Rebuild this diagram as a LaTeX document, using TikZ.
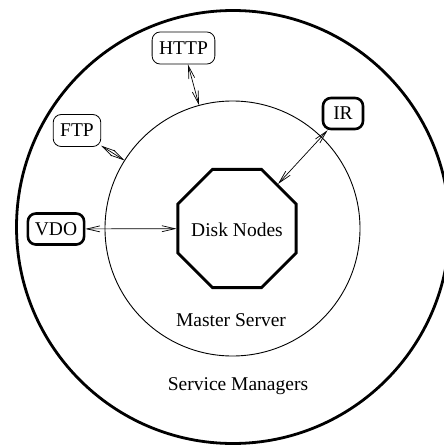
\documentclass[tikz,border=0pt]{standalone}
\usepackage{fontspec}
\setmainfont{Liberation Serif}
\usetikzlibrary{shapes.geometric,arrows.meta}
\begin{document}
\begin{tikzpicture}[x=1pt,y=-1pt,
  every node/.style={font=\fontsize{19.5}{23}\selectfont},
  thinbox/.style={draw,rounded corners=8pt,line width=0.8pt,inner xsep=7pt,minimum height=32pt},
  thickbox/.style={draw,rounded corners=8pt,line width=2.6pt,inner xsep=7pt,minimum height=31pt},
  link/.style={line width=0.7pt,{Straight Barb[length=13pt,width=6pt]}-{Straight Barb[length=13pt,width=6pt]}}]
\useasboundingbox (0,0) rectangle (444,447);
\node[circle,minimum size=433pt,inner sep=0pt] (svc) at (233,227) {};
\draw[line width=2.8pt] (svc.center) circle[radius=216.5pt];
\node[circle,minimum size=255pt,inner sep=0pt] (master) at (232.5,228.5) {};
\draw[line width=0.9pt] (master.center) circle[radius=127.5pt];
\node[regular polygon,regular polygon sides=8,draw,line width=2.8pt,minimum size=128pt,inner sep=0pt] (disk) at (237,228.5) {};
\node (disklabel) at (237,230) {Disk Nodes};
\node (masterlabel) at (231,320) {Master Server};
\node (svclabel) at (238,386) {Service Managers};
\node[thinbox] (http) at (183.5,48) {HTTP};
\node[thinbox] (ftp) at (77,130.5) {FTP};
\node[thickbox,minimum width=40pt] (ir) at (343,113.5) {IR};
\node[thickbox] (vdo) at (56,229) {VDO};
\draw[link] (http) -- (master);
\draw[link] (ftp) -- (master);
\draw[link] (ir) -- (disk);
\draw[link] (vdo) -- (disk);
\end{tikzpicture}
\end{document}
